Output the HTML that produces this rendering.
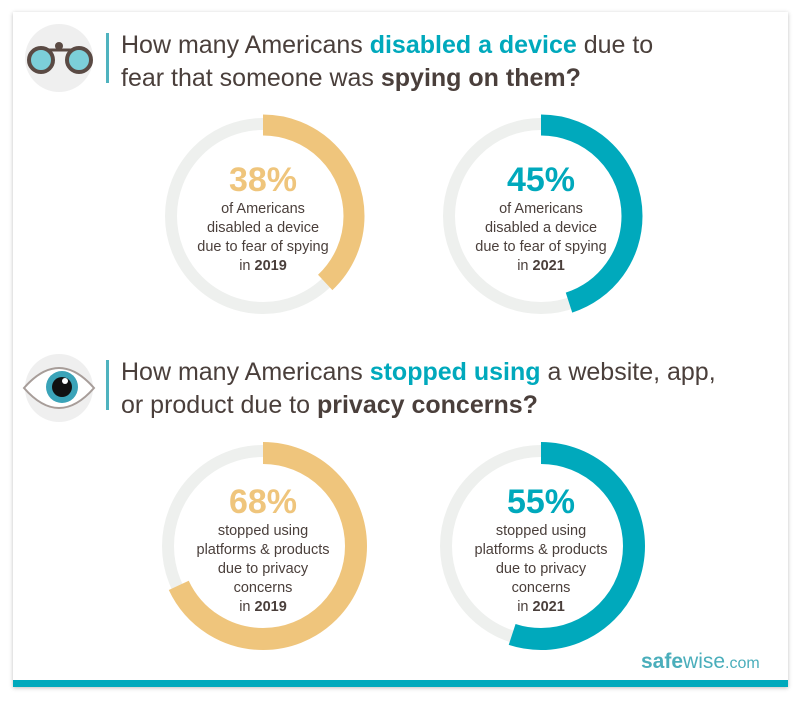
<!DOCTYPE html><html><head><style>
body{margin:0;width:801px;height:707px;background:#fff;font-family:"Liberation Sans",sans-serif;position:relative;overflow:hidden}
.card{position:absolute;left:13px;top:12px;width:775px;height:675px;background:#fff;box-shadow:0 1px 4px rgba(0,0,0,.25)}
.bar{position:absolute;left:13px;top:680px;width:775px;height:7px;background:#00a9bc}
.h{position:absolute;left:121px;font-size:25px;color:#4a3f3b;line-height:33px}
.h b{font-weight:bold}.t{color:#00a9bc}
.vl{position:absolute;left:106px;width:3px;background:#4fb3bf}
.lbl{position:absolute;width:200px;text-align:center;color:#4a3f3b;font-size:14.5px;line-height:19px}
.lbl .p{font-size:34px;font-weight:bold;line-height:40px;display:block}
.logo{position:absolute;left:641px;top:650px;font-size:21px;color:#4aaebb}
</style></head><body>
<div class="card"></div><div class="bar"></div>
<svg width="801" height="707" style="position:absolute;left:0;top:0">
<circle cx="59" cy="58" r="34" fill="#efefef"/>
<line x1="44" y1="50" x2="76" y2="50" stroke="#5a4a44" stroke-width="3"/>
<circle cx="59" cy="46" r="4" fill="#5a4a44"/>
<circle cx="41" cy="60" r="12" fill="#7ccfd9" stroke="#5a4a44" stroke-width="4"/>
<circle cx="79" cy="60" r="12" fill="#7ccfd9" stroke="#5a4a44" stroke-width="4"/>
<circle cx="59" cy="388" r="34" fill="#efefef"/>
<path d="M24 388 Q59 348 94 388 Q59 428 24 388Z" fill="#fff" stroke="#a79d99" stroke-width="2"/>
<circle cx="62" cy="387" r="16" fill="#3aa3b8"/><circle cx="62" cy="387" r="10" fill="#111"/><circle cx="65" cy="381" r="3" fill="#fff"/>
<g fill="none">
<circle cx="263" cy="216" r="92" stroke="#eef0ee" stroke-width="12"/>
<circle cx="263" cy="216" r="91" stroke="#efc57c" stroke-width="21" stroke-dasharray="217.3 1000" transform="rotate(-90 263 216)"/>
<circle cx="541" cy="216" r="92" stroke="#eef0ee" stroke-width="12"/>
<circle cx="541" cy="216" r="91" stroke="#00a9bc" stroke-width="21" stroke-dasharray="257.3 1000" transform="rotate(-90 541 216)"/>
<circle cx="263" cy="546" r="95" stroke="#eef0ee" stroke-width="12"/>
<circle cx="263" cy="546" r="93" stroke="#efc57c" stroke-width="22" stroke-dasharray="397.4 1000" transform="rotate(-90 263 546)"/>
<circle cx="541" cy="546" r="95" stroke="#eef0ee" stroke-width="12"/>
<circle cx="541" cy="546" r="93" stroke="#00a9bc" stroke-width="22" stroke-dasharray="321.4 1000" transform="rotate(-90 541 546)"/>
</g></svg>
<div class="vl" style="top:33px;height:50px"></div>
<div class="vl" style="top:360px;height:50px"></div>
<div class="h" style="top:29px">How many Americans <b class="t">disabled a device</b> due to<br>fear that someone was <b>spying on them?</b></div>
<div class="h" style="top:356px">How many Americans <b class="t">stopped using</b> a website, app,<br>or product due to <b>privacy concerns?</b></div>
<div class="lbl" style="left:163px;top:160px"><span class="p" style="color:#efc57c">38%</span>of Americans<br>disabled a device<br>due to fear of spying<br>in <b>2019</b></div>
<div class="lbl" style="left:441px;top:160px"><span class="p" style="color:#00a9bc">45%</span>of Americans<br>disabled a device<br>due to fear of spying<br>in <b>2021</b></div>
<div class="lbl" style="left:163px;top:482px"><span class="p" style="color:#efc57c">68%</span>stopped using<br>platforms &amp; products<br>due to privacy<br>concerns<br>in <b>2019</b></div>
<div class="lbl" style="left:441px;top:482px"><span class="p" style="color:#00a9bc">55%</span>stopped using<br>platforms &amp; products<br>due to privacy<br>concerns<br>in <b>2021</b></div>
<div class="logo"><b>safe</b>wise<span style="font-size:16px">.com</span></div>
</body></html>
